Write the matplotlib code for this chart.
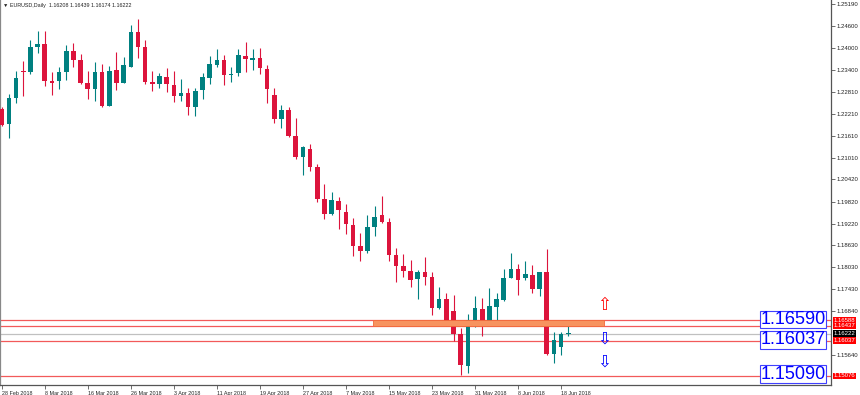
import matplotlib
matplotlib.use("Agg")
import matplotlib.pyplot as plt
import matplotlib.transforms as mtransforms
import numpy as np

# daily EURUSD candles, 28 Feb 2018 .. 19 Jun 2018
opens = [1.2233, 1.2192, 1.2264, 1.2337, 1.2334, 1.2403, 1.2410, 1.2310, 1.2310, 1.2333,
         1.2391, 1.2367, 1.2304, 1.2288, 1.2334, 1.2243, 1.2339, 1.2305, 1.2349, 1.2443,
         1.2401, 1.2307, 1.2301, 1.2321, 1.2300, 1.2270, 1.2278, 1.2239, 1.2285, 1.2319,
         1.2354, 1.2366, 1.2326, 1.2331, 1.2378, 1.2368, 1.2372, 1.2343, 1.2272, 1.2207,
         1.2231, 1.2160, 1.2102, 1.2125, 1.2076, 1.1989, 1.1947, 1.1984, 1.1954, 1.1919,
         1.1861, 1.1847, 1.1912, 1.1945, 1.1925, 1.1837, 1.1807, 1.1793, 1.1771, 1.1790,
         1.1777, 1.1693, 1.1717, 1.1684, 1.1622, 1.1536, 1.1660, 1.1691, 1.1658, 1.1696,
         1.1715, 1.1774, 1.1799, 1.1775, 1.1782, 1.1744, 1.1790, 1.1567, 1.1587, 1.16208]
highs = [1.2240, 1.2274, 1.2337, 1.2364, 1.2421, 1.2446, 1.2446, 1.2334, 1.2347, 1.2408,
         1.2413, 1.2384, 1.2337, 1.2361, 1.2355, 1.2350, 1.2389, 1.2374, 1.2463, 1.2477,
         1.2421, 1.2337, 1.2331, 1.2345, 1.2337, 1.2314, 1.2291, 1.2291, 1.2331, 1.2378,
         1.2397, 1.2380, 1.2347, 1.2396, 1.2415, 1.2397, 1.2400, 1.2353, 1.2290, 1.2244,
         1.2238, 1.2209, 1.2133, 1.2138, 1.2083, 1.2030, 1.2008, 1.1995, 1.1975, 1.1937,
         1.1896, 1.1945, 1.1969, 1.1998, 1.1938, 1.1856, 1.1839, 1.1823, 1.1796, 1.1831,
         1.1790, 1.1750, 1.1732, 1.1728, 1.1638, 1.1676, 1.1725, 1.1719, 1.1747, 1.1734,
         1.1798, 1.1841, 1.1811, 1.1821, 1.1810, 1.1790, 1.1853, 1.1627, 1.1627, 1.16439]
lows = [1.2188, 1.2154, 1.2251, 1.2269, 1.2328, 1.2385, 1.2297, 1.2272, 1.2289, 1.2313,
        1.2349, 1.2302, 1.2260, 1.2256, 1.2240, 1.2242, 1.2284, 1.2304, 1.2348, 1.2372,
        1.2301, 1.2282, 1.2290, 1.2281, 1.2253, 1.2256, 1.2218, 1.2215, 1.2260, 1.2302,
        1.2347, 1.2299, 1.2306, 1.2324, 1.2335, 1.2340, 1.2330, 1.2251, 1.2196, 1.2181,
        1.2158, 1.2097, 1.2053, 1.2064, 1.1980, 1.1934, 1.1945, 1.1907, 1.1894, 1.1835,
        1.1819, 1.1841, 1.1889, 1.1924, 1.1819, 1.1764, 1.1777, 1.1750, 1.1716, 1.1756,
        1.1673, 1.1689, 1.1644, 1.1604, 1.1509, 1.1517, 1.1640, 1.1616, 1.1657, 1.1652,
        1.1712, 1.1773, 1.1727, 1.1769, 1.1732, 1.1725, 1.1565, 1.1544, 1.1565, 1.16174]
closes = [1.2190, 1.2264, 1.2318, 1.2335, 1.2403, 1.2410, 1.2310, 1.2304, 1.2334, 1.2391,
          1.2368, 1.2303, 1.2287, 1.2334, 1.2243, 1.2338, 1.2305, 1.2352, 1.2443, 1.2402,
          1.2306, 1.2301, 1.2322, 1.2302, 1.2270, 1.2277, 1.2240, 1.2282, 1.2321, 1.2355,
          1.2367, 1.2325, 1.2329, 1.2380, 1.2369, 1.2372, 1.2345, 1.2289, 1.2207, 1.2231,
          1.2160, 1.2102, 1.2129, 1.2077, 1.1989, 1.1948, 1.1985, 1.1959, 1.1920, 1.1861,
          1.1848, 1.1913, 1.1940, 1.1925, 1.1837, 1.1806, 1.1793, 1.1769, 1.1790, 1.1777,
          1.1693, 1.1716, 1.1646, 1.1622, 1.1537, 1.1660, 1.1692, 1.1658, 1.1698, 1.1717,
          1.1774, 1.1799, 1.1769, 1.1784, 1.1744, 1.1790, 1.1567, 1.1605, 1.1622, 1.16222]

date_labels = ["28 Feb 2018", "8 Mar 2018", "16 Mar 2018", "26 Mar 2018", "3 Apr 2018",
               "11 Apr 2018", "19 Apr 2018", "27 Apr 2018", "7 May 2018", "15 May 2018",
               "23 May 2018", "31 May 2018", "8 Jun 2018", "18 Jun 2018"]
price_ticks = [1.25190, 1.24600, 1.24000, 1.23400, 1.22810, 1.22210, 1.21610, 1.21010,
               1.20420, 1.19820, 1.19220, 1.18630, 1.18030, 1.17430, 1.16840, 1.15640]

# horizontal levels drawn on the chart
red_levels = [1.16588, 1.16437, 1.16037, 1.15076]
bid = 1.16222
zone = (1.16437, 1.16588)
box_labels = ["1.16590", "1.16037", "1.15090"]
box_prices = [1.16610, 1.16060, 1.15130]

UP = "#008080"
DOWN = "#DC143C"

fig = plt.figure(figsize=(8.6, 3.95), dpi=100)
ax = fig.add_axes([0, 10 / 395, 831 / 860, 385 / 395])

o = np.array(opens)
h = np.array(highs)
l = np.array(lows)
c = np.array(closes)
x = np.arange(len(o))
cols = np.where(c >= o, UP, DOWN)

ax.vlines(x, l, h, colors=cols, linewidth=0.8, zorder=3)
body = np.maximum(np.abs(c - o), 0.00025)
ax.bar(x, body, bottom=np.minimum(o, c), width=0.64, color=cols, linewidth=0, zorder=4)

for lv in red_levels:
    ax.axhline(lv, color="#f25a5a", linewidth=0.9, zorder=2)
ax.axhline(bid, color="#c0c0c0", linewidth=0.9, zorder=2)

# supply / demand zone
ax.add_patch(plt.Rectangle((51.8, zone[0]), 84.0 - 51.8, zone[1] - zone[0],
                           facecolor="#f7935f", edgecolor="#f26a3a", linewidth=0.6, zorder=5))

# arrows
ax.text(84.0, 1.17000, "\u21e7", color="red", fontsize=12, ha="center", va="center", zorder=6)
ax.text(84.0, 1.16085, "\u21e9", color="blue", fontsize=12, ha="center", va="center", zorder=6)
ax.text(84.0, 1.15480, "\u21e9", color="blue", fontsize=12, ha="center", va="center", zorder=6)

# big boxed price labels
btrans = mtransforms.blended_transform_factory(ax.transAxes, ax.transData)
for lab, pr in zip(box_labels, box_prices):
    ax.text(760.7 / 831, pr, lab, transform=btrans, color="blue", fontsize=13,
            family="Liberation Sans", ha="left", va="center", zorder=7,
            bbox=dict(boxstyle="square,pad=0.02", facecolor="white", edgecolor="#4040ff", linewidth=0.8))

ax.set_xlim(-1.7 / 7.172, (831 - 1.7) / 7.172)
ax.set_ylim(1.14831, 1.25299)

ax.set_xticks(np.arange(len(date_labels)) * 6)
ax.set_xticklabels(date_labels, ha="left", fontsize=3.9, family="Liberation Sans", color="#222222")
ax.yaxis.tick_right()
ax.set_yticks(price_ticks)
ax.set_yticklabels([f"{p:.5f}" for p in price_ticks], fontsize=4.3, family="Liberation Sans", color="#222222")
ax.tick_params(axis="x", length=3, width=0.6, pad=1, color="#555555")
ax.tick_params(axis="y", length=3, width=0.6, pad=1, color="#555555")

# coloured price tags on the right scale
for lv in red_levels:
    ax.text(1.003, lv, f"{lv:.5f}", transform=btrans, color="white", fontsize=4.3,
            family="Liberation Sans", ha="left", va="center", clip_on=False, zorder=8,
            bbox=dict(boxstyle="square,pad=0.15", facecolor="red", edgecolor="red", linewidth=0))
ax.text(1.003, bid, f"{bid:.5f}", transform=btrans, color="white", fontsize=4.3,
        family="Liberation Sans", ha="left", va="center", clip_on=False, zorder=8,
        bbox=dict(boxstyle="square,pad=0.15", facecolor="black", edgecolor="black", linewidth=0))

ax.spines["top"].set_visible(False)
ax.spines["left"].set_color("#888888")
ax.spines["right"].set_color("#555555")
ax.spines["bottom"].set_color("#555555")
for s in ["left", "right", "bottom"]:
    ax.spines[s].set_linewidth(0.9)

ax.text(0.004, 0.987, "\u25bc EURUSD,Daily  1.16208 1.16439 1.16174 1.16222", transform=ax.transAxes,
        fontsize=3.9, family=["Liberation Sans", "DejaVu Sans"], ha="left", va="center", color="#222222")

fig.savefig("out.png", dpi=100)
